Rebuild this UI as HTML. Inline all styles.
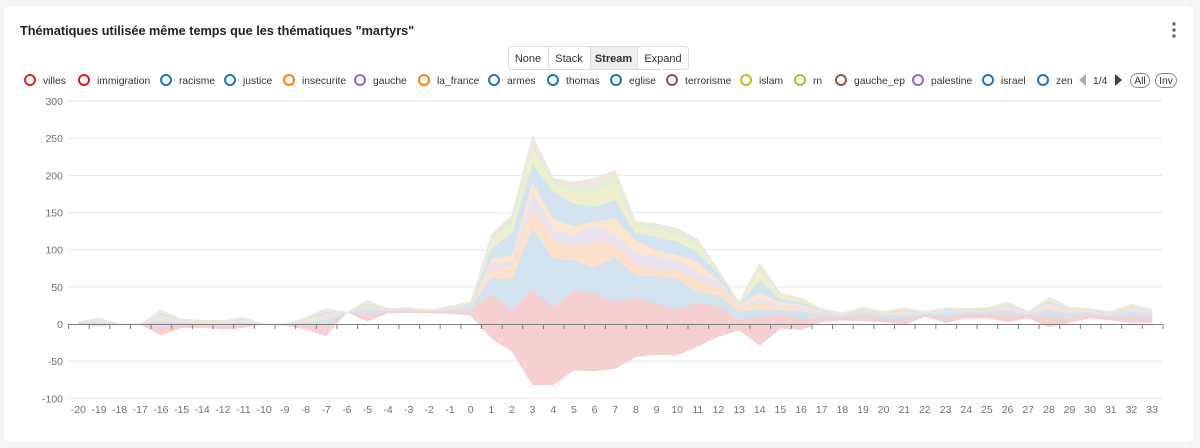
<!DOCTYPE html>
<html><head><meta charset="utf-8"><style>
html,body{margin:0;padding:0;background:#f4f4f4;width:1200px;height:448px;overflow:hidden;font-family:"Liberation Sans",sans-serif}
</style></head><body>
<svg id="s" width="1200" height="448" xmlns="http://www.w3.org/2000/svg" font-family="Liberation Sans, sans-serif">
<rect x="4" y="6" width="1189" height="436" rx="6" fill="#fff"/>
<text x="20" y="35" font-size="12.7" font-weight="bold" fill="#222">Thématiques utilisée même temps que les thématiques "martyrs"</text>
<circle cx="1174" cy="24" r="1.7" fill="#666"/><circle cx="1174" cy="30" r="1.7" fill="#666"/><circle cx="1174" cy="36" r="1.7" fill="#666"/>
<g font-size="11" fill="#333">
<rect x="508.5" y="46.5" width="180" height="23" rx="3" fill="#fff" stroke="#ddd"/>
<rect x="590" y="47" width="47" height="22" fill="#eee"/>
<line x1="548.5" y1="47" x2="548.5" y2="69" stroke="#ddd"/><line x1="590.5" y1="47" x2="590.5" y2="69" stroke="#ddd"/><line x1="637.5" y1="47" x2="637.5" y2="69" stroke="#ddd"/>
<text x="528" y="62" text-anchor="middle">None</text>
<text x="569" y="62" text-anchor="middle">Stack</text>
<text x="613.5" y="62" text-anchor="middle" font-weight="bold">Stream</text>
<text x="663" y="62" text-anchor="middle">Expand</text>
</g>
<g id="leg" font-size="10.3" fill="#333"></g>
<g id="plot"></g>
</svg>
<script>
(function(){
const NS="http://www.w3.org/2000/svg";
function el(t,a,p,txt){const e=document.createElementNS(NS,t);for(const k in a)e.setAttribute(k,a[k]);if(txt!=null)e.textContent=txt;p.appendChild(e);return e;}
const leg=document.getElementById('leg');
const items=[["villes",30,"#d62728"],["immigration",84,"#e31a1c"],["racisme",166,"#1f77b4"],["justice",230,"#1f77b4"],["insecurite",289,"#ff7f0e"],["gauche",360,"#9467bd"],["la_france",424,"#ff7f0e"],["armes",494,"#1f77b4"],["thomas",553,"#1f77b4"],["eglise",616,"#1f77b4"],["terrorisme",672,"#8c564b"],["islam",746,"#bcbd22"],["rn",800,"#bcbd22"],["gauche_ep",841,"#8c564b"],["palestine",918,"#9467bd"],["israel",988,"#1f77b4"],["zen",1043,"#1f77b4"]];
items.forEach(function(it){var n=it[0],x=it[1],c=it[2];el('circle',{cx:x,cy:80,r:5,fill:'none',stroke:c,'stroke-width':2},leg);el('text',{x:x+13,y:84},leg,n);});
el('path',{d:'M1086 74 L1079 80 L1086 86Z',fill:'#aaa'},leg);
el('text',{x:1093,y:84},leg,'1/4');
el('path',{d:'M1115 74 L1122 80 L1115 86Z',fill:'#2f4554'},leg);
el('rect',{x:1130.5,y:73.5,width:19,height:14,rx:7,fill:'none',stroke:'#888'},leg);
el('text',{x:1140,y:84,'text-anchor':'middle'},leg,'All');
el('rect',{x:1155.5,y:73.5,width:21,height:14,rx:7,fill:'none',stroke:'#888'},leg);
el('text',{x:1166,y:84,'text-anchor':'middle'},leg,'Inv');
const P=document.getElementById('plot');
const Y=function(v){return 324-v*0.7433;};
[300,250,200,150,100,50,0,-50,-100].forEach(function(v){
 if(v!==0)el('line',{x1:68,x2:1162,y1:Y(v),y2:Y(v),stroke:'#e0e6f1'},P);
 el('text',{x:63,y:Y(v)+4,'text-anchor':'end','font-size':10.5,fill:'#6e7079'},P,String(v));
});
const cats=[];for(let i=-20;i<=33;i++)if(i!==-13)cats.push(i);
const X=function(i){return 78.3+20.65*i;};
const lower=[0,-3,0,0,-15,-5,-5,-7,-5,0,-2,-7,-16,16,4,15,15,15,14,12,-19,-37,-82,-82,-62,-63,-60,-44,-41,-42,-30,-17,-8,-29,-6,-8,3,5,4,3,-1,10,2,8,8,3,8,-4,2,8,5,2,2];
const tops=[3,8,0,0,19,7,5,5,9,0,0,9,21,16,32,21,22,19,24,30,120,147,254,196,191,196,207,138,135,129,114,73,30,82,42,35,21,15,23,17,22,17,22,21,22,30,17,36,23,21,17,27,20];
const ex={red:[41,20,46,23,45,41,30,36,28,20,29,23,6,10,14],blue:[63,60,130,88,86,76,90,65,65,61,43,39,17,20,19],orange:[75,79,157,113,106,111,108,82,74,73,59,50,21,30,23],lav:[82,84,178,127,120,133,120,95,91,86,70,55,23,35,26],orange2:[88,93,191,142,132,138,142,113,99,93,84,59,26,42,29],blue2:[102,122,216,178,162,158,167,122,117,111,97,68,27,59,34]};
const fr={red:.35,blue:.58,orange:.65,lav:.74,orange2:.8,blue2:.88};
const keys=['red','blue','orange','lav','orange2','blue2'];
const B={};keys.forEach(function(k){B[k]=cats.map(function(c,i){return (i>=20&&i<=34)?ex[k][i-20]:lower[i]+(tops[i]-lower[i])*fr[k];});});
B.yellow=cats.map(function(c,i){return B.blue2[i]+(tops[i]-B.blue2[i])*.55;});
B.green=cats.map(function(c,i){return B.blue2[i]+(tops[i]-B.blue2[i])*.8;});
B.tt=tops;B.lower=lower;
const order=['lower','red','blue','orange','lav','orange2','blue2','yellow','green','tt'];
const cols={red:'#f6d0d0',blue:'#d2e3ef',orange:'#fde1cc',lav:'#e9e2f1',orange2:'#fde6cf',blue2:'#d3e4f0',yellow:'#eeefcf',green:'#e2eedb',tt:'#f2e6dc'};
for(let k=1;k<order.length;k++){
 const a=B[order[k-1]],b=B[order[k]];
 let d='M'+cats.map(function(c,i){return X(i).toFixed(1)+' '+Y(b[i]).toFixed(1);}).join(' L');
 for(let i=cats.length-1;i>=0;i--)d+=' L'+X(i).toFixed(1)+' '+Y(a[i]).toFixed(1);
 el('path',{d:d+'Z',fill:cols[order[k]],stroke:cols[order[k]],'stroke-width':0.5},P);
}
el('line',{x1:68,x2:1162,y1:324.5,y2:324.5,stroke:'#7a7c84'},P);
for(let i=0;i<=53;i++){const x=68.5+20.65*i;el('line',{x1:x,x2:x,y1:324,y2:329,stroke:'#7a7c84'},P);}
cats.forEach(function(c,i){el('text',{x:X(i),y:413,'text-anchor':'middle','font-size':10.5,fill:'#6e7079'},P,String(c));});
})();
</script>
</body></html>
